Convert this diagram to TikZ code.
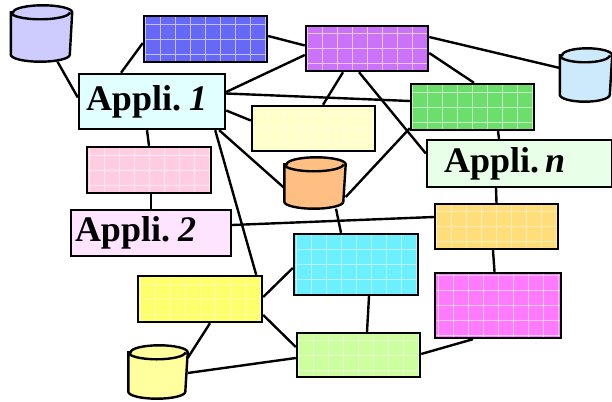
\documentclass[tikz,border=0pt]{standalone}
\usepackage{fontspec}
\setmainfont{Liberation Serif}

\definecolor{lavender}{RGB}{206,204,255}
\definecolor{skyblue}{RGB}{204,234,252}
\definecolor{blueish}{RGB}{104,104,246}
\definecolor{violet}{RGB}{202,114,248}
\definecolor{greenish}{RGB}{108,222,108}
\definecolor{paleyellow}{RGB}{255,255,204}
\definecolor{pinkish}{RGB}{255,204,226}
\definecolor{peach}{RGB}{255,190,130}
\definecolor{gold}{RGB}{255,222,122}
\definecolor{aqua}{RGB}{108,240,255}
\definecolor{lemon}{RGB}{255,255,108}
\definecolor{magentaish}{RGB}{255,122,255}
\definecolor{lime}{RGB}{206,255,158}
\definecolor{cream}{RGB}{255,255,158}
\definecolor{iceblue}{RGB}{226,255,255}
\definecolor{mint}{RGB}{232,255,232}
\definecolor{lilac}{RGB}{255,228,255}

\newcommand\dbase[5]{%
  \node[minimum width=#3pt,minimum height=#4pt,inner sep=0pt] (#1) at (#2) {};
  \draw[fill=#5] ([yshift=-7pt]#1.north west) -- ([yshift=7pt]#1.south west)
    arc[start angle=180,end angle=360,x radius=#3pt/2,y radius=7pt]
    -- ([yshift=-7pt]#1.north east)
    arc[start angle=0,end angle=180,x radius=#3pt/2,y radius=7pt] -- cycle
    ([yshift=-7pt]#1.north west)
    arc[start angle=180,end angle=360,x radius=#3pt/2,y radius=7pt];}

\begin{document}
\begin{tikzpicture}[x=1pt,y=-1pt,line width=2.4pt,
  box/.style={draw,rectangle,inner sep=0pt,minimum width=123pt,minimum height=46pt,
    path picture={\draw[white,line width=0.8pt,opacity=#1]
      (path picture bounding box.south west) grid[step=15pt] (path picture bounding box.north east);}},
  box/.default=0.6,
  appli/.style={draw,rectangle,font=\fontsize{36}{40}\selectfont\bfseries,align=left,
    minimum height=46pt,inner ysep=0pt}]

\useasboundingbox (0,0) rectangle (612,401);

\dbase{db1}{41.5,33.5}{59}{54}{lavender}
\node[box,fill=blueish]                      (blue)   at (205.5,39)  {};
\node[box,fill=violet,minimum width=122pt,minimum height=45pt] (violet) at (367,48.5) {};
\dbase{db2}{586,75}{50}{51}{skyblue}
\node[appli,fill=iceblue,text width=132pt,inner xsep=7pt,minimum height=55pt] (app1) at (152,101.5) {\mbox{Appli.\hspace{8pt}\textit{1}}};
\node[box=0.3,fill=paleyellow,minimum height=45pt] (pale) at (313.5,128.5) {};
\node[box,fill=greenish]                     (green)  at (472.5,107) {};
\node[appli,fill=mint,text width=151pt,inner xsep=17pt,minimum height=47pt] (appn) at (519.5,163.5) {\mbox{Appli.\hspace{6pt}\textit{n}}};
\node[box,fill=pinkish,minimum width=124pt]  (pink)   at (149,170)   {};
\dbase{db3}{315,183}{59}{49}{peach}
\node[appli,fill=lilac,text width=152pt,inner xsep=4pt] (app2) at (151,233) {\mbox{Appli.\hspace{8pt}\textit{2}}};
\node[box=0.5,fill=gold,minimum height=45pt] (gold)   at (496.5,226.5) {};
\node[box=0.5,fill=aqua,minimum width=124pt,minimum height=61pt] (aqua) at (356,264.5) {};
\node[box=0.4,fill=lemon,minimum width=124pt] (lemon) at (200,299)   {};
\node[box,fill=magentaish,minimum width=126pt,minimum height=65pt] (magenta) at (498,305.5) {};
\node[box=0.5,fill=lime,minimum height=44pt] (lime)   at (358.5,355) {};
\dbase{db4}{158,372}{57}{51}{cream}

\path ([xshift=16pt]db1.south)        edge ([yshift=4pt]app1.west)
      ([xshift=-31pt]app1.north)      edge ([yshift=-4pt]blue.west)
      ([yshift=3pt]blue.east)         edge ([yshift=3pt]violet.west)
      ([yshift=9.5pt]app1.east)       edge ([yshift=-6.5pt]violet.west)
      ([yshift=8pt]app1.east)         edge ([yshift=6pt]green.west)
      ([yshift=-9pt]app1.east)        edge ([yshift=8pt]pale.west)
      ([xshift=-7pt]app1.south east)  edge ([yshift=-5pt]db3.west)
      ([xshift=-11pt]app1.south east) edge ([xshift=-7pt]lemon.north east)
      ([xshift=-5pt]app1.south)       edge (pink.north)
      ([xshift=-24pt]violet.south)    edge ([xshift=9.5pt]pale.north)
      ([xshift=-8pt]violet.south)     edge ([yshift=10pt]appn.west)
      ([yshift=11.5pt]violet.east)    edge ([yshift=7pt]db2.west)
      ([yshift=-4.5pt]violet.east)    edge ([xshift=1.5pt]green.north)
      ([xshift=25.5pt]green.south)    edge ([xshift=-20.5pt]appn.north)
      ([yshift=3pt]green.south west)  edge ([yshift=-14pt]db3.east)
      ([xshift=-23.5pt]appn.south)    edge (gold.north)
      ([xshift=2pt]pink.south)        edge (app2.north)
      ([yshift=8pt]app2.east)         edge ([yshift=9.5pt]gold.west)
      ([xshift=21pt]db3.south)        edge ([xshift=-15pt]aqua.north)
      ([yshift=2pt]lemon.east)        edge ([yshift=-3.5pt]aqua.west)
      ([yshift=-16pt]lemon.east)      edge ([yshift=8pt]lime.west)
      ([xshift=10pt]lemon.south)      edge ([yshift=14pt]db4.east)
      ([yshift=-1pt]db4.east)         edge ([yshift=-3pt]lime.west)
      ([xshift=13pt]aqua.south)       edge ([xshift=8.5pt]lime.north)
      ([yshift=1pt]lime.east)         edge ([xshift=-25pt]magenta.south)
      ([xshift=-3.5pt]gold.south)     edge ([xshift=-3.5pt]magenta.north);
\end{tikzpicture}
\end{document}
